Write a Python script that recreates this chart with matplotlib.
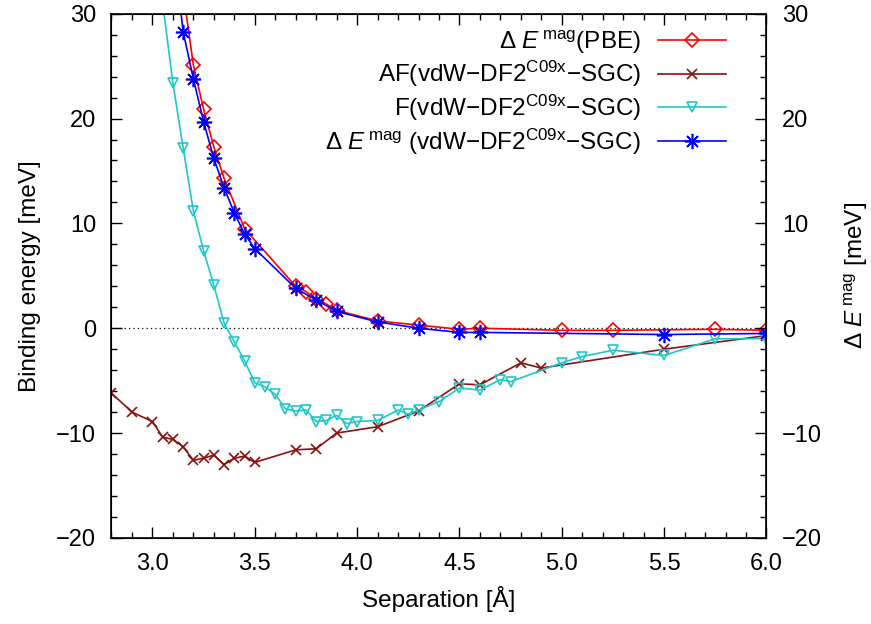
import matplotlib
matplotlib.use("Agg")
import matplotlib.pyplot as plt
from matplotlib.ticker import MultipleLocator

plt.rcParams["font.family"] = "Liberation Sans"
plt.rcParams["mathtext.fontset"] = "custom"
plt.rcParams["mathtext.rm"] = "Liberation Sans"
plt.rcParams["mathtext.it"] = "Liberation Sans:italic"
plt.rcParams["axes.unicode_minus"] = True

# Delta E mag (PBE)
x_pbe = [3.15, 3.2, 3.25, 3.3, 3.35, 3.45, 3.7, 3.75, 3.8, 3.85, 3.9,
         4.1, 4.3, 4.5, 4.6, 5.0, 5.25, 5.75, 6.0]
e_pbe = [32.1, 25.1, 20.9, 17.3, 14.3, 9.5, 4.0, 3.5, 2.8, 2.3, 1.7,
         0.7, 0.3, -0.1, 0.0, -0.2, -0.2, -0.1, -0.2]

# AF (vdW-DF2 C09x - SGC)
x_af = [2.8, 2.9, 3.0, 3.05, 3.1, 3.15, 3.2, 3.25, 3.3, 3.35, 3.4, 3.45,
        3.5, 3.7, 3.8, 3.9, 4.1, 4.3, 4.5, 4.6, 4.8, 4.9, 5.5, 6.0]
e_af = [-6.2, -8.0, -8.9, -10.4, -10.6, -11.3, -12.6, -12.4, -12.1, -13.0,
        -12.4, -12.2, -12.8, -11.6, -11.5, -10.0, -9.4, -7.9, -5.3, -5.4,
        -3.3, -3.8, -2.0, -0.7]

# F (vdW-DF2 C09x - SGC)
x_f = [3.05, 3.1, 3.15, 3.2, 3.25, 3.3, 3.35, 3.4, 3.45, 3.5, 3.55, 3.6,
       3.65, 3.7, 3.75, 3.8, 3.85, 3.9, 3.95, 4.0, 4.1, 4.2, 4.25, 4.3,
       4.4, 4.5, 4.6, 4.7, 4.75, 5.0, 5.1, 5.25, 5.5, 5.75, 6.0]
e_f = [31.0, 23.4, 17.2, 11.2, 7.4, 4.1, 0.5, -1.3, -3.1, -5.2, -5.6, -6.3,
       -7.7, -7.9, -7.8, -8.9, -8.8, -8.3, -9.1, -8.9, -8.8, -7.8, -8.2,
       -7.8, -7.0, -5.7, -5.9, -4.9, -5.1, -3.3, -2.7, -2.1, -2.6, -1.0, -1.0]

# Delta E mag (vdW-DF2 C09x - SGC)
x_dm = [3.1, 3.15, 3.2, 3.25, 3.3, 3.35, 3.4, 3.45, 3.5, 3.7, 3.8, 3.9,
        4.1, 4.3, 4.5, 4.6, 5.5, 6.0]
e_dm = [36.8, 28.3, 23.8, 19.7, 16.2, 13.4, 11.0, 9.0, 7.6, 3.8, 2.7, 1.6,
        0.6, 0.0, -0.4, -0.4, -0.6, -0.5]

labels = [
    r"$\Delta$ $E^{\,\mathrm{mag}}$(PBE)",
    r"AF(vdW−DF2$^{\mathrm{C09x}}$−SGC)",
    r"F(vdW−DF2$^{\mathrm{C09x}}$−SGC)",
    r"$\Delta$ $E^{\,\mathrm{mag}}$ (vdW−DF2$^{\mathrm{C09x}}$−SGC)",
]

fs = 17
fig = plt.figure(figsize=(8.71, 6.24), dpi=100)
ax = fig.add_axes([0.128, 0.138, 0.752, 0.84])

ax.axhline(0, color="black", lw=0.9, ls=(0, (1, 2.5)), zorder=1)

ax.plot(x_pbe, e_pbe, color="#ff0000", lw=1.2, marker="D", ms=7,
        mfc="none", mew=1.2, label=labels[0])
ax.plot(x_af, e_af, color="#8b1010", lw=1.2, marker="x", ms=6.5,
        mew=1.2, label=labels[1])
ax.plot(x_f, e_f, color="#1ec8c8", lw=1.2, marker="v", ms=7.5,
        mfc="none", mew=1.2, label=labels[2])
ax.plot(x_dm, e_dm, color="#0000ff", lw=1.2, marker=(8, 2, 0), ms=11,
        mew=1.2, label=labels[3])

ax.set_xlim(2.8, 6.0)
ax.set_ylim(-20, 30)
ax.xaxis.set_major_locator(MultipleLocator(0.5))
ax.xaxis.set_minor_locator(MultipleLocator(0.1))
ax.yaxis.set_major_locator(MultipleLocator(10))
ax.yaxis.set_minor_locator(MultipleLocator(2))
ax.xaxis.set_major_formatter(plt.FormatStrFormatter("%.1f"))
ax.tick_params(which="both", direction="in", top=True, right=True,
               labelsize=fs, width=1.0)
ax.tick_params(which="major", length=8, pad=11)
ax.tick_params(which="minor", length=4.5)
for s in ax.spines.values():
    s.set_linewidth(1.2)

ax.set_xlabel("Separation [Å]", fontsize=fs + 0.5, labelpad=8)
ax.set_ylabel("Binding energy [meV]", fontsize=fs + 0.5, labelpad=11)

ax2 = ax.twinx()
ax2.set_ylim(-20, 30)
ax2.yaxis.set_major_locator(MultipleLocator(10))
ax2.yaxis.set_minor_locator(MultipleLocator(2))
ax2.tick_params(which="both", direction="in", labelsize=fs, width=1.0)
ax2.tick_params(which="major", length=8, pad=11)
ax2.tick_params(which="minor", length=4.5)
ax2.set_ylabel(r"$\Delta$ $E^{\,\mathrm{mag}}$ [meV]", fontsize=fs + 0.5,
               labelpad=15)

leg = ax.legend(loc="upper right", bbox_to_anchor=(0.953, 0.99),
                frameon=False, markerfirst=False, fontsize=17.5,
                handlelength=2.8, handletextpad=0.7, labelspacing=0.14,
                borderaxespad=0)

fig.savefig("out.png", dpi=100)
